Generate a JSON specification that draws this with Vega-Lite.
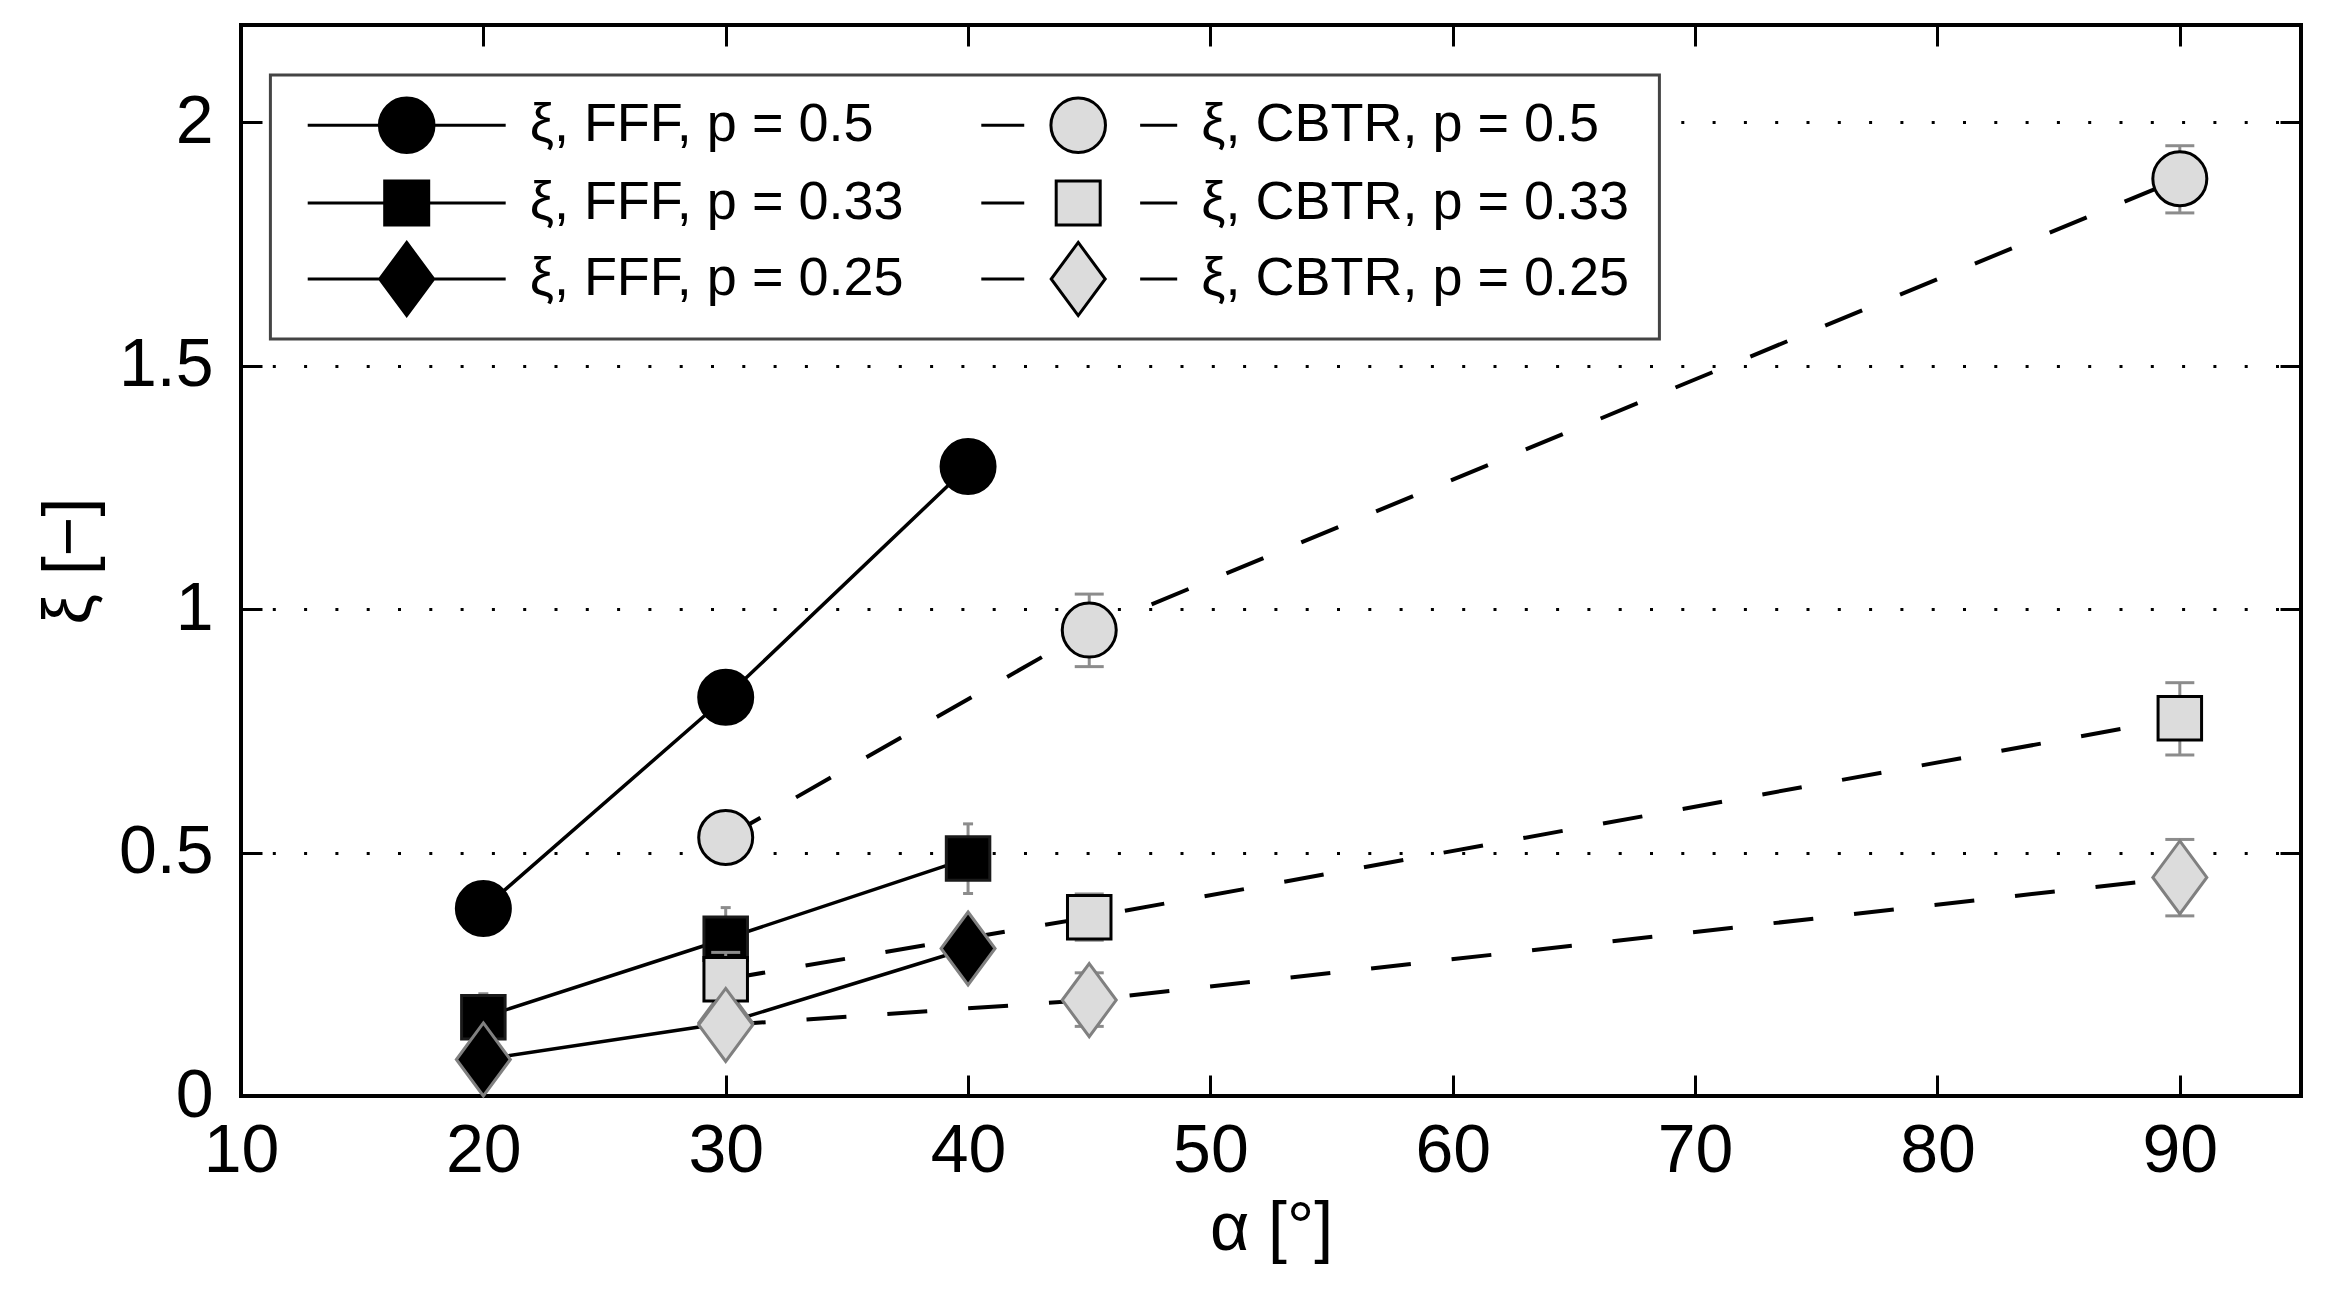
{
  "$schema": "https://vega.github.io/schema/vega-lite/v6.json",
  "width": 2060,
  "height": 1071,
  "autosize": "none",
  "padding": {"left": 241, "top": 25, "right": 25, "bottom": 199},
  "background": "white",
  "config": {
    "view": {"stroke": "black", "strokeWidth": 4},
    "font": "Liberation Sans",
    "legend": {"strokeWidth": 3},
    "axis": {
      "labelFont": "Liberation Sans", "titleFont": "Liberation Sans",
      "labelColor": "black", "titleColor": "black",
      "tickColor": "black", "tickWidth": 3, "tickSize": -21,
      "domain": false, "labelFontSize": 68, "titleFontSize": 68,
      "titleFontWeight": "normal", "labelFlush": false, "labelOverlap": false
    }
  },
  "data": {
    "values": [
      {"series": "ξ, FFF, p = 0.5", "method": "FFF", "p": "0.5", "alpha": 20, "xi": 0.385},
      {"series": "ξ, FFF, p = 0.5", "method": "FFF", "p": "0.5", "alpha": 30, "xi": 0.819},
      {"series": "ξ, FFF, p = 0.5", "method": "FFF", "p": "0.5", "alpha": 40, "xi": 1.293},
      {"series": "ξ, FFF, p = 0.33", "method": "FFF", "p": "0.33", "alpha": 20, "xi": 0.162, "lo": 0.114, "hi": 0.21},
      {"series": "ξ, FFF, p = 0.33", "method": "FFF", "p": "0.33", "alpha": 30, "xi": 0.323, "lo": 0.26, "hi": 0.387},
      {"series": "ξ, FFF, p = 0.33", "method": "FFF", "p": "0.33", "alpha": 40, "xi": 0.488, "lo": 0.416, "hi": 0.559},
      {"series": "ξ, FFF, p = 0.25", "method": "FFF", "p": "0.25", "alpha": 20, "xi": 0.075},
      {"series": "ξ, FFF, p = 0.25", "method": "FFF", "p": "0.25", "alpha": 30, "xi": 0.15},
      {"series": "ξ, FFF, p = 0.25", "method": "FFF", "p": "0.25", "alpha": 40, "xi": 0.303},
      {"series": "ξ, CBTR, p = 0.5", "method": "CBTR", "p": "0.5", "alpha": 30, "xi": 0.531},
      {"series": "ξ, CBTR, p = 0.5", "method": "CBTR", "p": "0.5", "alpha": 45, "xi": 0.957, "lo": 0.882, "hi": 1.031},
      {"series": "ξ, CBTR, p = 0.5", "method": "CBTR", "p": "0.5", "alpha": 90, "xi": 1.884, "lo": 1.814, "hi": 1.952},
      {"series": "ξ, CBTR, p = 0.33", "method": "CBTR", "p": "0.33", "alpha": 30, "xi": 0.24, "lo": 0.185, "hi": 0.295},
      {"series": "ξ, CBTR, p = 0.33", "method": "CBTR", "p": "0.33", "alpha": 45, "xi": 0.367, "lo": 0.32, "hi": 0.415},
      {"series": "ξ, CBTR, p = 0.33", "method": "CBTR", "p": "0.33", "alpha": 90, "xi": 0.776, "lo": 0.7005, "hi": 0.849},
      {"series": "ξ, CBTR, p = 0.25", "method": "CBTR", "p": "0.25", "alpha": 30, "xi": 0.146},
      {"series": "ξ, CBTR, p = 0.25", "method": "CBTR", "p": "0.25", "alpha": 45, "xi": 0.197, "lo": 0.143, "hi": 0.253},
      {"series": "ξ, CBTR, p = 0.25", "method": "CBTR", "p": "0.25", "alpha": 90, "xi": 0.449, "lo": 0.37, "hi": 0.527}
    ]
  },
  "encoding": {
    "x": {"field": "alpha", "type": "quantitative", "scale": {"domain": [10, 95], "nice": false, "zero": false}, "axis": null},
    "y": {"field": "xi", "type": "quantitative", "scale": {"domain": [0, 2.2], "nice": false, "zero": false}, "axis": null}
  },
  "layer": [
    {
      "transform": [{"filter": "datum.method === 'CBTR'"}],
      "mark": {"type": "line", "stroke": "black", "strokeWidth": 4, "strokeDash": [40, 41]},
      "encoding": {
        "detail": {"field": "p"},
        "x": {
          "field": "alpha", "type": "quantitative", "scale": {"domain": [10, 95], "nice": false, "zero": false},
          "axis": {"orient": "bottom", "values": [10, 20, 30, 40, 50, 60, 70, 80, 90], "labelPadding": 42, "title": "α [°]", "titlePadding": 10, "grid": false}
        },
        "y": {
          "field": "xi", "type": "quantitative", "scale": {"domain": [0, 2.2], "nice": false, "zero": false},
          "axis": {"orient": "left", "values": [0, 0.5, 1, 1.5, 2], "format": "~g", "labelPadding": 49, "title": "ξ [−]", "titlePadding": 14,
                   "grid": true, "gridColor": "black", "gridWidth": 3, "gridDash": [3, 28.3], "gridOpacity": 1}
        }
      }
    },
    {
      "transform": [{"filter": "datum.method === 'FFF'"}],
      "mark": {"type": "line", "stroke": "black", "strokeWidth": 3.5},
      "encoding": {
        "detail": {"field": "p"},
        "x": {
          "field": "alpha", "type": "quantitative", "scale": {"domain": [10, 95], "nice": false, "zero": false},
          "axis": {"orient": "top", "values": [10, 20, 30, 40, 50, 60, 70, 80, 90], "labels": false, "title": null, "grid": false}
        },
        "y": {
          "field": "xi", "type": "quantitative", "scale": {"domain": [0, 2.2], "nice": false, "zero": false},
          "axis": {"orient": "right", "values": [0, 0.5, 1, 1.5, 2], "labels": false, "title": null, "grid": false}
        }
      }
    },
    {
      "transform": [{"filter": "datum.method === 'FFF' && isValid(datum.lo)"}],
      "mark": {"type": "rule", "color": "#8c8c8c", "strokeWidth": 3},
      "encoding": {
        "y": {"field": "lo", "type": "quantitative", "scale": {"domain": [0, 2.2], "nice": false, "zero": false}, "axis": null},
        "y2": {"field": "hi"}
      }
    },
    {
      "transform": [{"filter": "datum.method === 'FFF' && isValid(datum.lo)"}, {"fold": ["lo", "hi"], "as": ["end", "v"]}],
      "mark": {"type": "rule", "color": "#8c8c8c", "strokeWidth": 3, "xOffset": -5, "x2Offset": 5},
      "encoding": {
        "x2": {"field": "alpha"},
        "y": {"field": "v", "type": "quantitative", "scale": {"domain": [0, 2.2], "nice": false, "zero": false}, "axis": null}
      }
    },
    {
      "transform": [{"filter": "datum.method === 'FFF'"}],
      "mark": {"type": "point", "filled": true, "opacity": 1, "fill": "black", "size": 3600, "strokeWidth": 3},
      "encoding": {
        "shape": {"field": "p", "type": "nominal", "legend": null, "scale": {"domain": ["0.5", "0.33", "0.25"], "range": [
          "M0.9,0A0.9,0.9,0,1,1,-0.9,0A0.9,0.9,0,1,1,0.9,0Z",
          "M-0.725,-0.725L0.725,-0.725L0.725,0.725L-0.725,0.725Z",
          "M0,-1.217L0.9,0L0,1.217L-0.9,0Z"]}},
        "stroke": {"field": "p", "type": "nominal", "legend": null, "scale": {"domain": ["0.5", "0.33", "0.25"], "range": ["black", "#1a1a1a", "#808080"]}}
      }
    },
    {
      "transform": [{"filter": "datum.method === 'CBTR' && isValid(datum.lo)"}],
      "mark": {"type": "rule", "color": "#8c8c8c", "strokeWidth": 3},
      "encoding": {
        "y": {"field": "lo", "type": "quantitative", "scale": {"domain": [0, 2.2], "nice": false, "zero": false}, "axis": null},
        "y2": {"field": "hi"}
      }
    },
    {
      "transform": [{"filter": "datum.method === 'CBTR' && isValid(datum.lo)"}, {"fold": ["lo", "hi"], "as": ["end", "v"]}],
      "mark": {"type": "rule", "color": "#8c8c8c", "strokeWidth": 3, "xOffset": -14.5, "x2Offset": 14.5},
      "encoding": {
        "x2": {"field": "alpha"},
        "y": {"field": "v", "type": "quantitative", "scale": {"domain": [0, 2.2], "nice": false, "zero": false}, "axis": null}
      }
    },
    {
      "transform": [{"filter": "datum.method === 'CBTR'"}],
      "mark": {"type": "point", "filled": true, "opacity": 1, "fill": "#dcdcdc", "size": 3600, "strokeWidth": 3},
      "encoding": {
        "shape": {"field": "p", "type": "nominal", "legend": null, "scale": {"domain": ["0.5", "0.33", "0.25"], "range": [
          "M0.9,0A0.9,0.9,0,1,1,-0.9,0A0.9,0.9,0,1,1,0.9,0Z",
          "M-0.725,-0.725L0.725,-0.725L0.725,0.725L-0.725,0.725Z",
          "M0,-1.217L0.9,0L0,1.217L-0.9,0Z"]}},
        "stroke": {"field": "p", "type": "nominal", "legend": null, "scale": {"domain": ["0.5", "0.33", "0.25"], "range": ["black", "black", "#808080"]}}
      }
    },
    {
      "transform": [{"filter": "false"}],
      "mark": {"type": "point", "filled": true, "opacity": 1, "stroke": "black", "strokeWidth": 3},
      "encoding": {
        "shape": {
          "field": "series", "type": "nominal",
          "scale": {
            "domain": ["ξ, FFF, p = 0.5", "ξ, CBTR, p = 0.5", "ξ, FFF, p = 0.33", "ξ, CBTR, p = 0.33", "ξ, FFF, p = 0.25", "ξ, CBTR, p = 0.25"],
            "range": [
              "M-2.605,0L2.605,0M0.718,0A0.718,0.718,0,1,1,-0.718,0A0.718,0.718,0,1,1,0.718,0ZM0,0.842",
              "M-2.55,0L-1.42,0M1.63,0L2.605,0M0.718,0A0.718,0.718,0,1,1,-0.718,0A0.718,0.718,0,1,1,0.718,0ZM0,0.842M14.85,0",
              "M-2.605,0L2.605,0M-0.579,-0.579L0.579,-0.579L0.579,0.579L-0.579,0.579ZM0,0.684",
              "M-2.55,0L-1.42,0M1.63,0L2.605,0M-0.579,-0.579L0.579,-0.579L0.579,0.579L-0.579,0.579ZM0,0.684M14.85,0",
              "M-2.605,0L2.605,0M0,-0.961L0.711,0L0,0.961L-0.711,0ZM0,1.124",
              "M-2.55,0L-1.42,0M1.63,0L2.605,0M0,-0.961L0.711,0L0,0.961L-0.711,0ZM0,1.124M14.85,0"
            ]
          },
          "legend": {
            "orient": "none", "legendX": 29.4, "legendY": 50, "direction": "horizontal", "columns": 2, "title": null,
            "symbolSize": 5776, "symbolStrokeWidth": 3, "symbolStrokeColor": "black", "symbolOpacity": 1, "symbolOffset": 86.3,
            "labelFont": "Liberation Sans", "labelFontSize": 54, "labelColor": "black", "labelOffset": 83.5, "labelLimit": 0,
            "padding": 10.5, "rowPadding": 0, "columnPadding": 48.5,
            "strokeColor": "#444444", "fillColor": "white"
          }
        },
        "fill": {
          "field": "series", "type": "nominal",
          "scale": {
            "domain": ["ξ, FFF, p = 0.5", "ξ, CBTR, p = 0.5", "ξ, FFF, p = 0.33", "ξ, CBTR, p = 0.33", "ξ, FFF, p = 0.25", "ξ, CBTR, p = 0.25"],
            "range": ["black", "#dcdcdc", "black", "#dcdcdc", "black", "#dcdcdc"]
          },
          "legend": {
            "orient": "none", "legendX": 29.4, "legendY": 50, "direction": "horizontal", "columns": 2, "title": null,
            "symbolSize": 5776, "symbolStrokeWidth": 3, "symbolStrokeColor": "black", "symbolOpacity": 1, "symbolOffset": 86.3,
            "labelFont": "Liberation Sans", "labelFontSize": 54, "labelColor": "black", "labelOffset": 83.5, "labelLimit": 0,
            "padding": 10.5, "rowPadding": 0, "columnPadding": 48.5,
            "strokeColor": "#444444", "fillColor": "white"
          }
        },
        "stroke": {
          "field": "series", "type": "nominal",
          "scale": {
            "domain": ["ξ, FFF, p = 0.5", "ξ, CBTR, p = 0.5", "ξ, FFF, p = 0.33", "ξ, CBTR, p = 0.33", "ξ, FFF, p = 0.25", "ξ, CBTR, p = 0.25"],
            "range": ["black", "black", "black", "black", "black", "black"]
          },
          "legend": {
            "orient": "none", "legendX": 29.4, "legendY": 50, "direction": "horizontal", "columns": 2, "title": null,
            "symbolSize": 5776, "symbolStrokeWidth": 3, "symbolStrokeColor": "black", "symbolOpacity": 1, "symbolOffset": 86.3,
            "labelFont": "Liberation Sans", "labelFontSize": 54, "labelColor": "black", "labelOffset": 83.5, "labelLimit": 0,
            "padding": 10.5, "rowPadding": 0, "columnPadding": 48.5,
            "strokeColor": "#444444", "fillColor": "white"
          }
        }
      }
    }
  ],
  "resolve": {
    "axis": {"x": "independent", "y": "independent"},
    "scale": {"shape": "independent", "fill": "independent", "stroke": "independent"}
  }
}
